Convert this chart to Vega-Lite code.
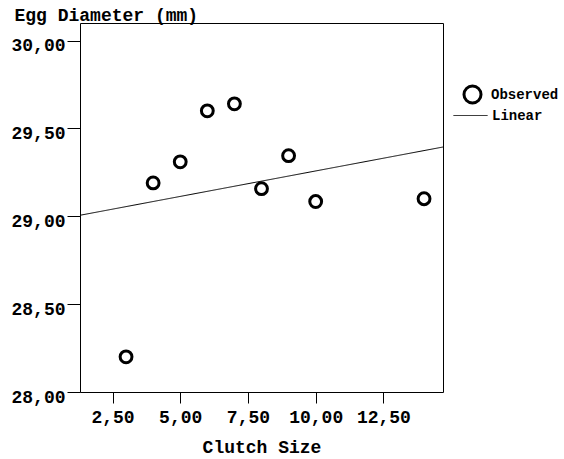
{
  "$schema": "https://vega.github.io/schema/vega-lite/v6.json",
  "width": 363,
  "height": 369,
  "autosize": {"type": "none"},
  "padding": {"left": 80, "top": 23, "right": 121, "bottom": 67},
  "background": "white",
  "data": {
    "values": [
      {"clutch": 3, "egg": 28.20},
      {"clutch": 4, "egg": 29.19},
      {"clutch": 5, "egg": 29.31},
      {"clutch": 6, "egg": 29.60},
      {"clutch": 7, "egg": 29.64},
      {"clutch": 8, "egg": 29.157},
      {"clutch": 9, "egg": 29.345},
      {"clutch": 10, "egg": 29.084},
      {"clutch": 14, "egg": 29.10}
    ]
  },
  "layer": [
    {
      "mark": {"type": "point", "filled": false, "stroke": "black", "strokeWidth": 3, "size": 140, "opacity": 1},
      "encoding": {
        "x": {"field": "clutch", "type": "quantitative", "scale": {"domain": [1.3, 14.7], "nice": false, "zero": false},
          "axis": {"values": [2.5, 5, 7.5, 10, 12.5], "tickSize": 11, "labelPadding": 5, "title": "Clutch Size", "titlePadding": 12,
            "labelExpr": "replace(format(datum.value, '.2f'), '.', ',')"}},
        "y": {"field": "egg", "type": "quantitative", "scale": {"domain": [28, 30.1], "nice": false, "zero": false},
          "axis": {"values": [28, 28.5, 29, 29.5, 30], "tickSize": 13, "labelPadding": 2, "labelOffset": 5, "title": "Egg Diameter (mm)",
            "titleAngle": 0, "titleAlign": "left", "titleBaseline": "alphabetic", "titleX": -66, "titleY": -3,
            "labelExpr": "replace(format(datum.value, '.2f'), '.', ',')"}},
        "shape": {"datum": "Observed", "scale": {"domain": ["Observed"], "range": ["circle"]},
          "legend": {"title": null, "orient": "none", "legendX": 382, "legendY": 61, "symbolSize": 290, "symbolStrokeColor": "black",
            "symbolFillColor": "transparent", "symbolStrokeWidth": 3, "labelFont": "Liberation Mono", "labelFontWeight": "bold", "labelFontSize": 14,
            "labelColor": "black", "labelOffset": 8}}
      }
    },
    {
      "transform": [{"regression": "egg", "on": "clutch", "extent": [1.3, 14.7]}],
      "mark": {"type": "line", "color": "black", "strokeWidth": 1, "clip": true},
      "encoding": {
        "x": {"field": "clutch", "type": "quantitative"},
        "y": {"field": "egg", "type": "quantitative"},
        "strokeDash": {"datum": "Linear", "scale": {"domain": ["Linear"], "range": [[1, 0]]},
          "legend": {"title": null, "orient": "none", "legendX": 373, "legendY": 75, "symbolSize": 1156, "symbolStrokeColor": "black",
            "symbolStrokeWidth": 1, "symbolType": "stroke", "labelFont": "Liberation Mono", "labelFontWeight": "bold", "labelFontSize": 14,
            "labelColor": "black", "labelOffset": 4}}
      }
    }
  ],
  "config": {
    "view": {"stroke": "black", "strokeWidth": 1},
    "axis": {"grid": false, "domain": false, "tickColor": "black", "tickWidth": 1,
      "labelFont": "Liberation Mono", "labelFontWeight": "bold", "labelFontSize": 18, "labelColor": "black",
      "titleFont": "Liberation Mono", "titleFontWeight": "bold", "titleFontSize": 18, "titleColor": "black"}
  }
}
